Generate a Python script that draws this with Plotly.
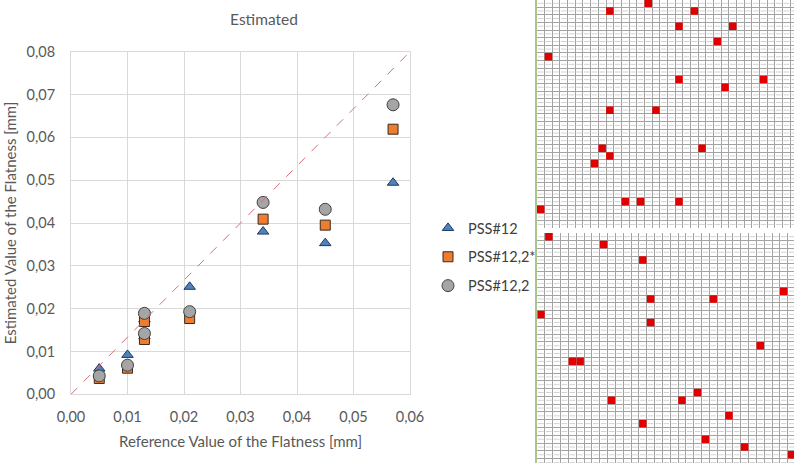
import plotly.graph_objects as go

# ---------------- scatter data ----------------
ref_flatness = [0.005, 0.010, 0.013, 0.013, 0.021, 0.034, 0.045, 0.057]
est_pss12 = [0.0060, 0.0092, 0.0135, 0.0175, 0.0251, 0.0380, 0.0353, 0.0494]
est_pss12_2star = [0.0037, 0.0061, 0.0128, 0.0170, 0.0177, 0.0409, 0.0395, 0.0619]
est_pss12_2 = [0.0043, 0.0068, 0.0142, 0.0189, 0.0193, 0.0448, 0.0432, 0.0676]
series_names = ["PSS#12", "PSS#12,2*", "PSS#12,2"]
diag_x = [0.0, 0.06]
diag_y = [0.0, 0.08]
x_ticks = [0.00, 0.01, 0.02, 0.03, 0.04, 0.05, 0.06]
y_ticks = [0.00, 0.01, 0.02, 0.03, 0.04, 0.05, 0.06, 0.07, 0.08]

# ---------------- grid image data (column, row of red cells) ----------------
top_cols, top_rows = 34, 30
top_red_col = [14, 9, 20, 18, 25, 23, 1, 18, 29, 24, 9, 15, 8, 21, 9, 7, 11, 13, 18, 0]
top_red_row = [0, 1, 1, 3, 3, 5, 7, 10, 10, 11, 14, 14, 19, 19, 20, 21, 26, 26, 26, 27]
bot_cols, bot_rows = 33, 30
bot_red_col = [1, 8, 13, 31, 14, 22, 0, 14, 28, 4, 5, 20, 9, 18, 24, 13, 21, 26, 32]
bot_red_row = [0, 1, 3, 7, 8, 8, 10, 11, 14, 16, 16, 20, 21, 21, 23, 24, 26, 27, 28]

FONT = "Lato, 'Open Sans', sans-serif"
TXT = "#595959"
W, H = 794, 463

fig = go.Figure()

styles = [
    dict(symbol="triangle-up", size=10, color="#4f81bd", line=dict(color="#1f3864", width=1)),
    dict(symbol="square", size=10, color="#ed7d31", line=dict(color="#3b2a1a", width=1)),
    dict(symbol="circle", size=12, color="#a5a5a5", line=dict(color="#404040", width=1)),
]
for name, vals, st in zip(series_names, [est_pss12, est_pss12_2star, est_pss12_2], styles):
    fig.add_trace(go.Scatter(x=ref_flatness, y=vals, mode="markers", name=name,
                             legendgroup=name, marker=st, xaxis="x", yaxis="y"))

fig.add_trace(go.Scatter(x=diag_x, y=diag_y, mode="lines", showlegend=False,
                         line=dict(color="#d0707a", width=1, dash="dash"),
                         xaxis="x", yaxis="y", hoverinfo="skip"))

# ---------------- grid panels ----------------
def cell_texture(ncols, nrows, xa, ya):
    xs, ys = [], []
    for r in range(nrows):
        for c in range(ncols):
            xs.append(c + 0.5)
            ys.append(r + 0.5)
    fig.add_trace(go.Scatter(x=xs, y=ys, mode="markers", showlegend=False, hoverinfo="skip",
                             marker=dict(symbol="line-ew", size=4,
                                         line=dict(color="#d2d2d2", width=1)),
                             xaxis=xa, yaxis=ya))

cell_texture(top_cols, top_rows, "x2", "y2")
cell_texture(bot_cols, bot_rows, "x3", "y3")

fig.add_trace(go.Scatter(x=[c + 0.5 for c in top_red_col], y=[r + 0.5 for r in top_red_row],
                         mode="markers", showlegend=False, hoverinfo="skip",
                         marker=dict(symbol="square", size=7.5, color="#e00000",
                                     line=dict(width=0)),
                         xaxis="x2", yaxis="y2"))
fig.add_trace(go.Scatter(x=[c + 0.5 for c in bot_red_col], y=[r + 0.5 for r in bot_red_row],
                         mode="markers", showlegend=False, hoverinfo="skip",
                         marker=dict(symbol="square", size=7.5, color="#e00000",
                                     line=dict(width=0)),
                         xaxis="x3", yaxis="y3"))

grid_axis = dict(showgrid=True, gridcolor="#a3a3a3", gridwidth=1, dtick=1, tick0=0,
                 showticklabels=False, zeroline=False, ticks="", showline=False, fixedrange=True)

# pixel-based domains
px_l, px_r, px_t, px_b = 71, 410, 51.7, 394.3
top_x0 = 536.9
top_pitch_x, top_pitch_y = 7.68, 7.63
bot_x0 = 537.1
bot_pitch_x, bot_pitch_y = 7.83, 7.79
bot_y0 = 232.8

fig.update_layout(
    width=W, height=H,
    margin=dict(l=0, r=0, t=0, b=0),
    paper_bgcolor="white", plot_bgcolor="white",
    separators=",.",
    font=dict(family=FONT, color=TXT, size=14),
    title=dict(text="Estimated", x=264 / W, xanchor="center", xref="paper",
               y=1 - 20 / H, yanchor="middle", yref="container",
               font=dict(family=FONT, size=15.5, color=TXT)),
    showlegend=True,
    legend=dict(x=428 / W, y=1 - 212 / H, xanchor="left", yanchor="top",
                font=dict(family=FONT, size=14.5, color="#404040"),
                tracegroupgap=7, bgcolor="rgba(0,0,0,0)", itemwidth=30),
    xaxis=dict(domain=[px_l / W, px_r / W], range=[0, 0.06], tickvals=x_ticks,
               tickformat=".2f", showgrid=True, gridcolor="#d9d9d9", zeroline=False,
               showline=True, linecolor="#d9d9d9", mirror=True, ticks="",
               ticklabelstandoff=9, tickfont=dict(size=14.5, color=TXT),
               title=dict(text="Reference Value of the Flatness [mm]", standoff=12,
                          font=dict(size=15, color=TXT)),
               automargin=False, anchor="y", fixedrange=True),
    yaxis=dict(domain=[1 - px_b / H, 1 - px_t / H], range=[0, 0.08], tickvals=y_ticks,
               tickformat=".2f", showgrid=True, gridcolor="#d9d9d9", zeroline=False,
               showline=True, linecolor="#d9d9d9", mirror=True, ticks="",
               ticklabelstandoff=12, tickfont=dict(size=14.5, color=TXT),
               title=dict(text="Estimated Value of the Flatness [mm]", standoff=6,
                          font=dict(size=15, color=TXT)),
               automargin=False, anchor="x", fixedrange=True),
    xaxis2=dict(grid_axis, domain=[top_x0 / W, 1], range=[0, (W - top_x0) / top_pitch_x],
                anchor="y2"),
    yaxis2=dict(grid_axis, domain=[1 - (top_rows * top_pitch_y - 0.5) / H, 1],
                range=[top_rows, 0.5 / top_pitch_y], anchor="x2"),
    xaxis3=dict(grid_axis, domain=[bot_x0 / W, 1], range=[0, (W - bot_x0) / bot_pitch_x],
                anchor="y3"),
    yaxis3=dict(grid_axis, domain=[0, 1 - bot_y0 / H],
                range=[(H - bot_y0) / bot_pitch_y, 0], anchor="x3"),
    shapes=[dict(type="line", xref="paper", yref="paper", x0=536 / W, x1=536 / W,
                 y0=0, y1=1, line=dict(color="#8db36a", width=1.5))],
)

fig.write_html("out.html", config={"displayModeBar": False},
               post_script="document.body.style.margin='0px';")
